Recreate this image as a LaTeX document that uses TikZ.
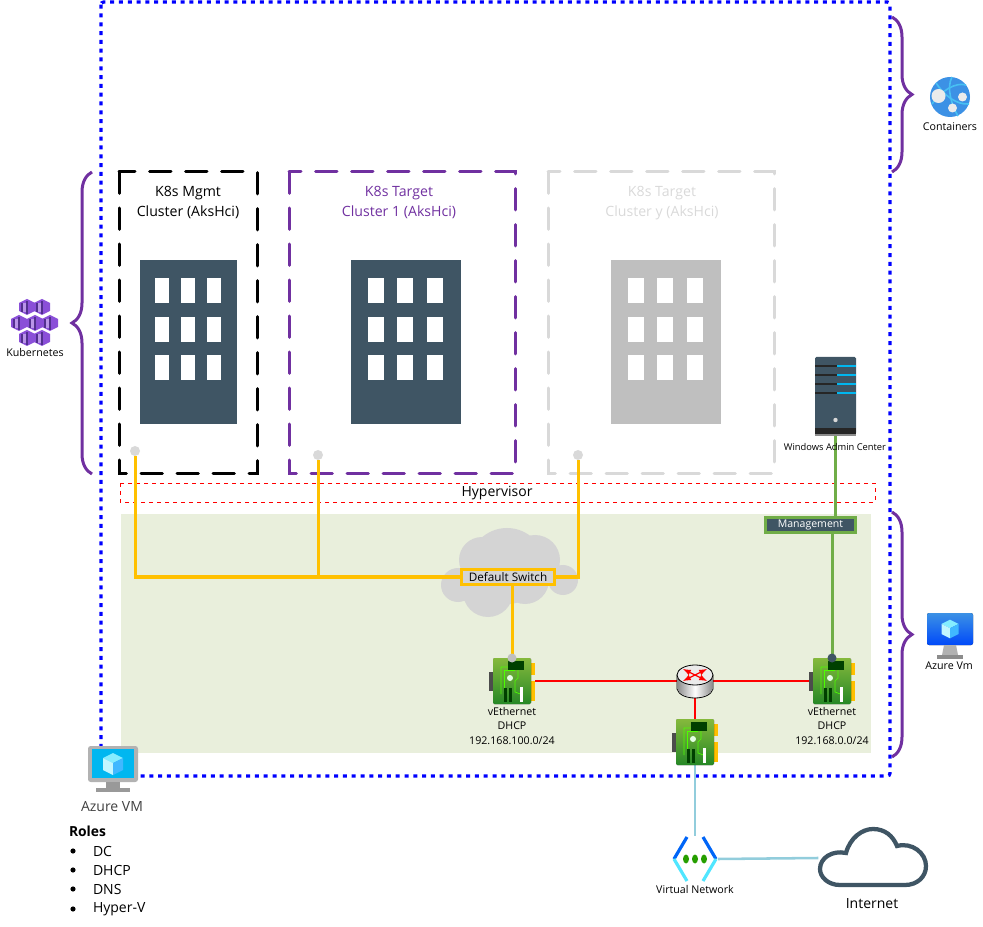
\documentclass[tikz,border=0pt]{standalone}
\usepackage{fontspec}
\setmainfont{Open Sans}
\usetikzlibrary{decorations.pathreplacing}

\definecolor{slate}{HTML}{3F5564}
\definecolor{brpurple}{HTML}{7030A0}
\definecolor{wire}{HTML}{FFC000}
\definecolor{mgmtgreen}{HTML}{70AD47}
\definecolor{areagreen}{HTML}{E9EFDC}
\definecolor{ghost}{HTML}{D9D9D9}
\definecolor{azcyan}{HTML}{50E6FF}
\definecolor{azsky}{HTML}{00B7F0}
\definecolor{azblue}{HTML}{3C91E5}
\definecolor{vnetline}{HTML}{92CDDC}
\definecolor{kubelight}{HTML}{8A4FD8}
\definecolor{kubedark}{HTML}{52308F}

\tikzset{
	x=0.75pt, y=-0.75pt,
	labeltext/.style={inner sep=0pt, outer sep=0pt, align=center, font=\fontsize{8}{10.9}\selectfont},
	bigtext/.style={inner sep=0pt, outer sep=0pt, font=\fontsize{10.5}{12}\selectfont},
	clusterbox/.style={line width=2.25pt, dash pattern=on 16pt off 11pt, line cap=round},
	clustertext/.style={inner sep=0pt, align=center, font=\fontsize{10.6}{15}\selectfont},
	brace/.style={draw=brpurple, line width=2.25pt, decorate, decoration={brace, amplitude=15pt}},
	cable/.style={draw=wire, line width=2.25pt},
	redcable/.style={draw=red, line width=1.6pt},
	greencable/.style={draw=mgmtgreen, line width=2.25pt},
	bluecable/.style={draw=vnetline, line width=1.9pt},
	anchorbox/.style={inner sep=0pt, outer sep=0pt, minimum width=#1},
	dot/.style={circle, fill=ghost, inner sep=0pt, minimum size=7.5pt},
	nicicon/.pic={
		\fill[black!70] (-23,-9) rectangle (-18,10);
		\fill[wire] (18,-18) rectangle (23,-6);
		\fill[wire] (18,0) rectangle (23,20);
		\fill[top color=mgmtgreen!85!yellow, bottom color=green!45!black!85, rounded corners=1pt] (-19,-23) rectangle (19,23);
		\draw[green!70!yellow, line width=0.5pt] (-11,13) -- (-11,-14) -- (6,-14) -- (6,-3) -- (3,0) -- (3,11) -- (11,14);
		\draw[green!70!yellow, line width=0.5pt] (-8,11) -- (-8,-11) -- (3,-11);
		\fill[green!25!black] (-4,-20) rectangle (12,-11);
		\fill[white!90!green] (-2,-3) circle (3);
		\fill[green!25!black] (-8,7) rectangle (-5,21);
		\fill[green!25!black] (-3,7) rectangle (0,21);
		\fill[white] (8,6) rectangle (11,21);
	},
	building/.pic={
		\fill[pic actions] (-55,-82) rectangle (55,82);
		\foreach \col in {-38,-9,21}
			\foreach \row in {-64,-25,13}
				\fill[white] (\col,\row) rectangle ++(16,25);
	},
	kubecell/.pic={
		\fill[kubelight] (-8,-4) -- (0,-8) -- (8,-4) -- (8,4) -- (0,8) -- (-8,4) -- cycle;
		\fill[kubedark] (-6,-4) rectangle (-4,5);
		\fill[kubedark] (-1,-6) rectangle (1,7);
		\fill[kubelight!60!white] (-4,-4) rectangle (-1,5);
	},
	cubeicon/.pic={
		\fill[azcyan!70!white] (0,-11) -- (10,-6) -- (0,-1) -- (-10,-6) -- cycle;
		\fill[azcyan!35!white] (-10,-6) -- (0,-1) -- (0,11) -- (-10,6) -- cycle;
		\fill[azcyan!80!blue] (10,-6) -- (0,-1) -- (0,11) -- (10,6) -- cycle;
	},
}

\begin{document}
\begin{tikzpicture}
	\useasboundingbox (0,0) rectangle (983,927);

	\fill[areagreen] (121,514) rectangle (871,753);
	\draw[draw=blue, line width=2.4pt, dash pattern=on 3pt off 3.6pt, rounded corners=2pt] (101,2) rectangle (890,776);
	\draw[red, dashed, line width=0.6pt] (120,483) rectangle (875,502);
	\node[bigtext] (hypervisor) at (497,493) {Hypervisor};

	\draw[clusterbox, black] (119,172) rectangle (257,474);
	\draw[clusterbox, brpurple] (289,172) rectangle (515,474);
	\draw[clusterbox, ghost] (548,172) rectangle (774,474);
	\node[clustertext, black] (mgmttext) at (188,203) {K8s Mgmt\\Cluster (AksHci)};
	\node[clustertext, brpurple] (targettext) at (399,203) {K8s Target\\Cluster 1 (AksHci)};
	\node[clustertext, ghost] (ytext) at (662,203) {K8s Target\\Cluster y (AksHci)};

	\pic[fill=slate, xscale=0.885] at (188.5,342) {building};
	\pic[fill=slate] at (405.5,342) {building};
	\pic[fill=black!25] at (665.5,342) {building};

	\draw[brace] (92,474) -- (92,172);
	\draw[brace] (892,17) -- (892,172);
	\draw[brace] (892,512) -- (892,757);

	\fill[black!17] (507,566) circle (38) (482,560) circle (23) (458,585) circle (17)
		(488,592) circle (25) (525,580) circle (24) (563,580) circle (15) (535,560) circle (25);

	\node[dot] (mgmtdot) at (135,451) {};
	\node[dot] (targetdot) at (318,455) {};
	\node[dot] (ydot) at (578,455) {};
	\node[draw=wire, line width=2.25pt, fill=black!17, inner sep=0pt, minimum width=70pt, minimum height=11pt, font=\fontsize{8.8}{9}\selectfont] (switch) at (508,577) {Default Switch};
	\node[anchorbox=34.5pt, minimum height=34.5pt] (nicleft) at (512,681) {};
	\node[anchorbox=34.5pt, minimum height=34.5pt] (nicright) at (832,681) {};
	\node[anchorbox=34.5pt, minimum height=34.5pt] (nicbottom) at (695,742) {};
	\node[anchorbox=27pt, minimum height=25.5pt] (router) at (695,681) {};
	\node[anchorbox=34.5pt, minimum height=34.5pt] (vnet) at (695,859) {};
	\node[anchorbox=31pt, minimum height=60pt] (server) at (835.5,396.5) {};
	\node[draw=mgmtgreen, line width=2.25pt, fill=slate, text=white, inner sep=0pt, minimum width=68pt, minimum height=11.5pt, font=\fontsize{7.9}{9}\selectfont] (mgmtswitch) at (810.5,525) {Management};
	\node[anchorbox=82pt, minimum height=46pt] (internet) at (873,858) {};

	\draw[cable] (mgmtdot) |- (switch.west);
	\draw[cable] (targetdot) -- (targetdot |- switch.west);
	\draw[cable] (ydot) |- (switch.east);
	\draw[cable] (switch.south -| nicleft.north) -- (nicleft.north);
	\draw[greencable] (server.south) -- (server.south |- mgmtswitch.north);
	\draw[greencable] (nicright.north |- mgmtswitch.south) -- (nicright.north);
	\draw[redcable] (nicleft.east) -- (router.west);
	\draw[redcable] (router.east) -- (nicright.west);
	\draw[redcable] (router.south) -- (nicbottom.north);
	\draw[bluecable] (nicbottom.south) -- (vnet.north);
	\draw[bluecable] (vnet.east) -- (internet.west);

	\pic at (nicleft) {nicicon};
	\pic at (nicright) {nicicon};
	\pic at (nicbottom) {nicicon};
	\fill[black!25] (nicleft.north) circle (4.5);
	\fill[slate] (nicright.north) circle (4.5);

	% router
	\fill[black!20, draw=black, line width=0.6pt] (677,675) -- (677,689) .. controls (680,701) and (710,701) .. (713,689) -- (713,675) -- cycle;
	\shade[left color=black!45, right color=black!45, middle color=white] (677.5,678) -- (677.5,689) .. controls (680,700) and (710,700) .. (712.5,689) -- (712.5,678) -- cycle;
	\draw[fill=white!92!black, line width=0.6pt] (695,675) ellipse (18 and 10);
	\draw[red, line width=1pt, -latex] (695,675) -- (707,669);
	\draw[red, line width=1pt, -latex] (695,675) -- (683,669);
	\draw[red, line width=1pt, -latex] (695,675) -- (683,681);
	\draw[red, line width=1pt, -latex] (695,675) -- (707,681);

	% server
	\fill[slate, rounded corners=1pt] (815,357) rectangle (856,434);
	\fill[black!85] (815,428) rectangle (856,434);
	\fill[black!45] (815,434) rectangle (856,436);
	\foreach \stripe in {366,375,384,393} {
		\draw[black!85, line width=0.9pt] (815,\stripe) -- (837,\stripe);
		\draw[azsky, line width=1.4pt] (837,\stripe) -- (856,\stripe);
	}
	\fill[black!15] (835.5,420) circle (2.2);
	\node[labeltext, font=\fontsize{7}{9}\selectfont] (wac) at (835,447) {Windows Admin Center};

	\node[labeltext] (nicleftlabel) at (512,726) {vEthernet\\DHCP\\192.168.100.0/24};
	\node[labeltext] (nicrightlabel) at (832,726) {vEthernet\\DHCP\\192.168.0.0/24};

	% kubernetes
	\foreach \hx/\hy in {27/307,42/307,19/323,35/323,50/323,27/338,42/338}
		\pic at (\hx,\hy) {kubecell};
	\node[labeltext] (kubelabel) at (35,353) {Kubernetes};

	% containers
	\fill[azblue] (950,97) circle (20);
	\draw[azcyan!55!azblue, line width=1.2pt] (936,83) .. controls (944,95) and (956,105) .. (969,104);
	\draw[azcyan!55!azblue, line width=1.2pt] (952,77) .. controls (946,88) and (952,106) .. (958,116);
	\draw[azcyan!55!azblue, line width=1.2pt] (932,104) .. controls (942,90) and (956,82) .. (966,85);
	\fill[black!8] (938.5,96) circle (7);
	\fill[black!8] (962.5,97) circle (4.5);
	\fill[black!8] (952.5,108) circle (4.5);
	\node[labeltext] (containerlabel) at (950,127) {Containers};

	% azure vm right
	\fill[top color=azblue, bottom color=blue!60!azsky, rounded corners=1.5pt] (927,613) rectangle (973,645);
	\fill[black!30] (944,645) -- (956,645) -- (958,655) -- (942,655) -- cycle;
	\fill[black!45] (937,655) rectangle (963,659);
	\pic[scale=0.85] at (950,629) {cubeicon};
	\node[labeltext] (vmlabel) at (949,666) {Azure Vm};

	% azure vm left
	\fill[black!30, rounded corners=2pt] (88,746) rectangle (138,782);
	\fill[azsky] (92,749) rectangle (134,778);
	\fill[black!40] (106,782) rectangle (120,788);
	\fill[black!40] (96,788) rectangle (130,792);
	\pic at (113,764) {cubeicon};
	\node[bigtext, text=black!75] (azurevm) at (112,807) {Azure VM};

	\node[bigtext, anchor=west, font=\fontsize{10.4}{12}\selectfont\bfseries] (roles) at (69,831) {Roles};
	\foreach \roletext/\roley/\rolename in {DC/851/dc, DHCP/870/dhcp, DNS/889/dns, Hyper-V/909/hyperv} {
		\fill (73,\roley) circle (2.6);
		\node[bigtext, anchor=west] (\rolename) at (93,\roley) {\roletext};
	}

	% virtual network
	\draw[line width=2.4pt, draw=blue!45!azsky] (687,837) -- (674,859);
	\draw[line width=2.4pt, draw=blue!45!azsky] (703,837) -- (716,859);
	\draw[line width=2.4pt, draw=azcyan] (674,859) -- (687,881);
	\draw[line width=2.4pt, draw=azcyan] (716,859) -- (703,881);
	\foreach \vx in {686,695,704}
		\fill[green!55!black!85!yellow] (\vx,859) ellipse (3 and 4.5);
	\node[labeltext] (vnetlabel) at (695,889) {Virtual Network};

	% internet
	\draw[slate, line width=3.2pt, fill=white] (840,885) .. controls (828,885) and (820,877) .. (820,869) .. controls (820,858) and (832,850) .. (846,853) .. controls (850,838) and (862,829) .. (873,829) .. controls (885,829) and (893,836) .. (897,846) .. controls (912,842) and (926,853) .. (926,866) .. controls (926,877) and (917,885) .. (905,885) -- cycle;
	\node[bigtext] (internettext) at (872,904) {Internet};
\end{tikzpicture}
\end{document}
